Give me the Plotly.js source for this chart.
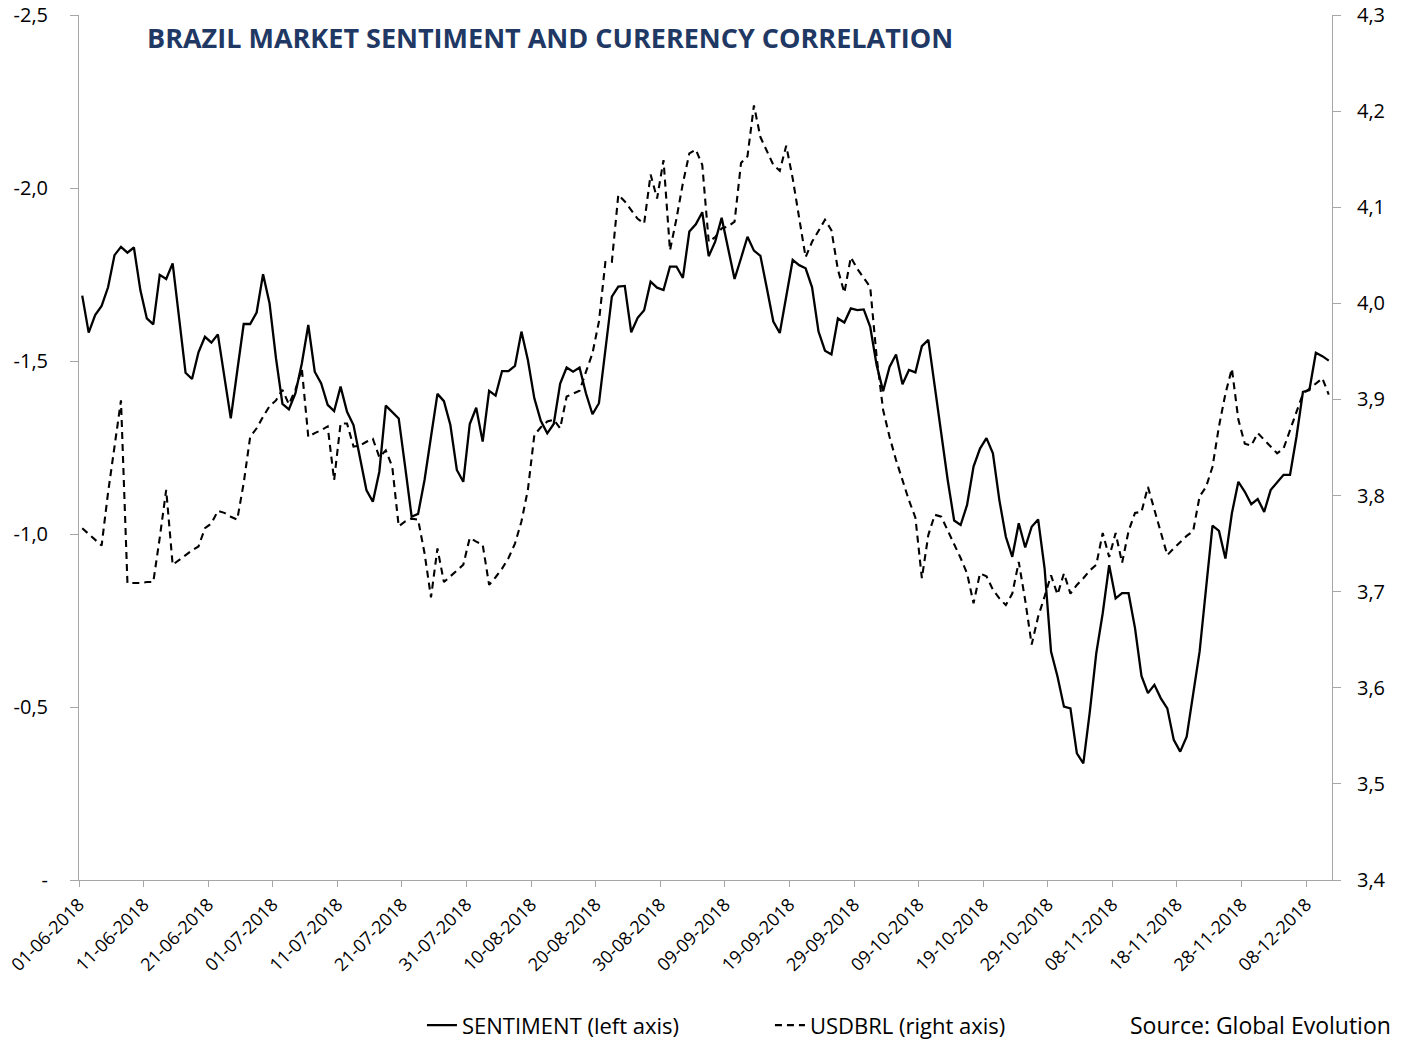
<!DOCTYPE html>
<html>
<head>
<meta charset="utf-8">
<script src="https://cdn.plot.ly/plotly-3.0.1.min.js"></script>
<style>html,body{margin:0;padding:0;background:#fff;}#chart{width:1404px;height:1041px;}</style>
</head>
<body>
<div id="chart"></div>
<script>
// Daily series starting 01-06-2018
const startDate = '2018-06-01';
const sentiment = [
-1.689,-1.582,-1.633,-1.659,-1.713,-1.806,-1.830,-1.813,-1.828,-1.705,
-1.623,-1.606,-1.749,-1.737,-1.782,-1.624,-1.466,-1.448,-1.525,-1.570,
-1.553,-1.577,-1.457,-1.334,-1.471,-1.607,-1.607,-1.640,-1.751,-1.667,
-1.508,-1.376,-1.360,-1.406,-1.493,-1.604,-1.469,-1.435,-1.373,-1.355,
-1.426,-1.353,-1.315,-1.222,-1.127,-1.093,-1.180,-1.371,-1.353,-1.334,
-1.194,-1.050,-1.058,-1.156,-1.281,-1.405,-1.384,-1.315,-1.185,-1.151,
-1.318,-1.365,-1.267,-1.414,-1.400,-1.471,-1.471,-1.486,-1.585,-1.503,
-1.392,-1.327,-1.291,-1.318,-1.435,-1.481,-1.469,-1.481,-1.406,-1.346,
-1.378,-1.532,-1.686,-1.715,-1.717,-1.583,-1.625,-1.647,-1.729,-1.712,
-1.705,-1.773,-1.773,-1.740,-1.874,-1.895,-1.930,-1.803,-1.845,-1.914,
-1.830,-1.737,-1.797,-1.859,-1.819,-1.804,-1.710,-1.614,-1.581,-1.691,
-1.792,-1.777,-1.768,-1.713,-1.585,-1.530,-1.519,-1.623,-1.611,-1.652,
-1.647,-1.649,-1.599,-1.488,-1.413,-1.483,-1.519,-1.433,-1.474,-1.467,
-1.543,-1.561,-1.421,-1.286,-1.156,-1.039,-1.026,-1.084,-1.195,-1.247,
-1.277,-1.233,-1.098,-0.992,-0.934,-1.031,-0.961,-1.021,-1.042,-0.901,
-0.660,-0.588,-0.501,-0.496,-0.366,-0.337,-0.486,-0.655,-0.771,-0.910,
-0.814,-0.829,-0.829,-0.728,-0.590,-0.540,-0.564,-0.525,-0.496,-0.405,
-0.371,-0.414,-0.535,-0.660,-0.843,-1.024,-1.009,-0.929,-1.060,-1.151,
-1.122,-1.086,-1.101,-1.064,-1.127,-1.148,-1.171,-1.171,-1.281,-1.411,
-1.416,-1.524,-1.514,-1.501
];
const usdbrl = [
3.766,3.760,3.754,3.748,3.803,3.849,3.899,3.709,3.709,3.709,
3.710,3.710,3.756,3.806,3.728,3.733,3.738,3.743,3.747,3.766,
3.771,3.784,3.782,3.778,3.775,3.813,3.861,3.870,3.882,3.893,
3.899,3.910,3.895,3.910,3.932,3.861,3.865,3.868,3.872,3.816,
3.875,3.875,3.851,3.852,3.856,3.859,3.840,3.847,3.830,3.768,
3.773,3.776,3.775,3.740,3.694,3.745,3.710,3.716,3.722,3.728,
3.756,3.752,3.749,3.707,3.715,3.724,3.735,3.750,3.773,3.806,
3.863,3.871,3.877,3.879,3.870,3.903,3.906,3.909,3.929,3.948,
3.981,4.043,4.043,4.113,4.106,4.097,4.088,4.083,4.134,4.109,
4.149,4.055,4.088,4.125,4.156,4.160,4.144,4.064,4.069,4.078,
4.080,4.085,4.146,4.153,4.206,4.173,4.158,4.144,4.138,4.164,
4.130,4.087,4.048,4.064,4.076,4.087,4.076,4.035,4.011,4.048,
4.036,4.026,4.017,3.944,3.889,3.861,3.837,3.816,3.795,3.777,
3.714,3.759,3.780,3.778,3.764,3.750,3.735,3.719,3.688,3.719,
3.716,3.702,3.693,3.686,3.698,3.731,3.691,3.645,3.674,3.695,
3.717,3.697,3.719,3.698,3.707,3.714,3.722,3.728,3.761,3.736,
3.761,3.730,3.763,3.782,3.783,3.809,3.785,3.761,3.738,3.745,
3.752,3.758,3.763,3.799,3.809,3.830,3.872,3.906,3.932,3.879,
3.854,3.852,3.865,3.858,3.850,3.844,3.849,3.868,3.886,3.906,
3.911,3.917,3.922,3.905
];
const leftTickVals = [-2.5, -2.0, -1.5, -1.0, -0.5, 0];
const leftTickText = ['-2,5', '-2,0', '-1,5', '-1,0', '-0,5', '-'];
const rightTickVals = [3.4, 3.5, 3.6, 3.7, 3.8, 3.9, 4.0, 4.1, 4.2, 4.3];
const rightTickText = ['3,4', '3,5', '3,6', '3,7', '3,8', '3,9', '4,0', '4,1', '4,2', '4,3'];
const seriesNames = ['SENTIMENT (left axis)', 'USDBRL (right axis)'];
const chartTitle = 'BRAZIL MARKET SENTIMENT AND CURERENCY CORRELATION';
const sourceText = 'Source: Global Evolution';

// daily dates (centred on each day)
const dates = [];
const d0 = new Date(startDate + 'T12:00:00Z');
for (let i = 0; i < sentiment.length; i++) {
  const d = new Date(d0.getTime() + i * 86400000);
  dates.push(d.toISOString().slice(0, 10) + ' 12:00');
}
const endDate = new Date(d0.getTime() + sentiment.length * 86400000).toISOString().slice(0, 10);

const FONT = 'Open Sans, Noto Sans, sans-serif';
const AX = '#a6a6a6';

const traces = [
  { x: dates, y: sentiment, name: seriesNames[0], type: 'scatter', mode: 'lines',
    line: { color: '#000000', width: 2.3 }, yaxis: 'y', hoverinfo: 'skip' },
  { x: dates, y: usdbrl, name: seriesNames[1], type: 'scatter', mode: 'lines',
    line: { color: '#000000', width: 2.1, dash: '7px,5px' }, yaxis: 'y2', hoverinfo: 'skip' }
];

const layout = {
  width: 1404, height: 1041,
  paper_bgcolor: '#ffffff', plot_bgcolor: '#ffffff',
  margin: { l: 79, r: 72, t: 15, b: 161, autoexpand: false },
  font: { family: FONT, size: 18, color: '#000000' },
  title: { text: '<b>' + chartTitle + '</b>', font: { family: FONT, size: 27, color: '#1f3864' },
           x: 147 / 1404, xref: 'container', xanchor: 'left', y: 1 - 39 / 1041, yref: 'container', yanchor: 'middle', automargin: false },
  xaxis: {
    type: 'date', range: [startDate, endDate], automargin: false,
    tick0: startDate, dtick: 10 * 86400000, tickformat: '%d-%m-%Y', tickangle: -45,
    ticks: 'outside', ticklen: 6, tickcolor: AX, tickwidth: 1,
    showline: true, linecolor: AX, linewidth: 1, showgrid: false, zeroline: false,
    tickfont: { family: FONT, size: 18, color: '#000' }
  },
  yaxis: {
    range: [0, -2.5], tickvals: leftTickVals, ticktext: leftTickText, automargin: false,
    ticks: 'outside', ticklen: 8, tickcolor: AX, tickwidth: 1, ticklabelstandoff: 18,
    showline: true, linecolor: AX, linewidth: 1, showgrid: false, zeroline: false,
    tickfont: { family: FONT, size: 20, color: '#000' }
  },
  yaxis2: {
    range: [3.4, 4.3], tickvals: rightTickVals, ticktext: rightTickText, automargin: false,
    overlaying: 'y', side: 'right',
    ticks: 'outside', ticklen: 8, tickcolor: AX, tickwidth: 1, ticklabelstandoff: 12,
    showline: true, linecolor: AX, linewidth: 1, showgrid: false, zeroline: false,
    tickfont: { family: FONT, size: 20, color: '#000' }
  },
  showlegend: true,
  legend: {
    orientation: 'h', x: 0.2737, xanchor: 'left', y: -0.168, yanchor: 'middle',
    font: { family: FONT, size: 22, color: '#000' },
    bgcolor: 'rgba(0,0,0,0)', itemclick: false, itemdoubleclick: false,
    entrywidth: 303, entrywidthmode: 'pixels'
  },
  annotations: [
    { text: sourceText, xref: 'paper', yref: 'paper', x: 1.0487, y: -0.168,
      xanchor: 'right', yanchor: 'middle', showarrow: false,
      font: { family: FONT, size: 23, color: '#000' } }
  ]
};

Plotly.newPlot('chart', traces, layout, { displayModeBar: false, staticPlot: true });
</script>
</body>
</html>
